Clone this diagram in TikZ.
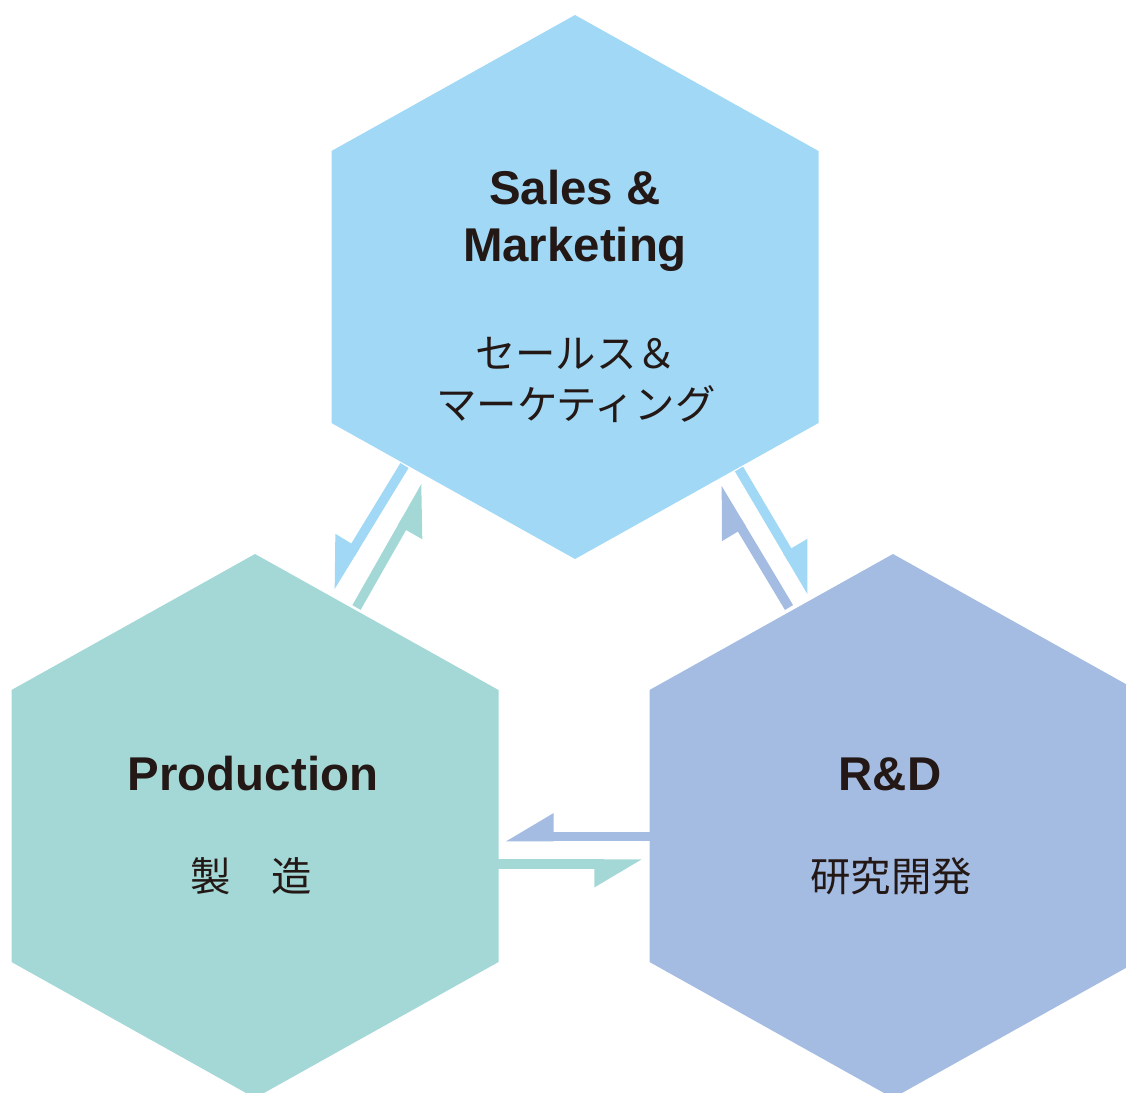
\documentclass[tikz,border=0pt]{standalone}
\usepackage{fontspec}
\setsansfont{Liberation Sans}
\newfontfamily\jafont{Noto Sans CJK JP}
\usetikzlibrary{arrows.meta}
\definecolor{sales fill}{RGB}{160,216,245}
\definecolor{prod fill}{RGB}{163,216,214}
\definecolor{rnd fill}{RGB}{164,188,226}
\definecolor{label color}{RGB}{35,24,21}

\begin{document}
\begin{tikzpicture}[
	x=0.5pt, y=-0.5pt,
	font=\sffamily,
	en/.style={font=\sffamily\bfseries\fontsize{23.7}{28.7}\selectfont, text=label color, align=center},
	ja/.style={font=\jafont\fontsize{20.2}{25.3}\selectfont, text=label color, align=center},
	harp right/.style={line width=4.75pt, -{Triangle[harpoon, swap, length=20pt, width=22pt]}},
	harp left/.style={line width=4.75pt, -{Triangle[harpoon, length=20pt, width=22pt]}}]

\useasboundingbox (0,0) rectangle (1126,1093);
\clip (0,0) rectangle (1126,1093);

% Hexagons
\foreach \cx/\cy/\col in {575/287/sales fill, 255/826/prod fill, 893/826/rnd fill} {
    \path [fill=\col] (\cx,\cy) ++(0,-272) -- ++(243.5,136) -- ++(0,272)
        -- ++(-243.5,136) -- ++(-243.5,-136) -- ++(0,-272) -- cycle;
}

% Labels
\node (sales) at (575,221) [en] {Sales \&\\Marketing};
\node (salesja) at (576,380) [ja] {セールス＆\\マーケティング};
\node (prod) at (253,774) [en] {Production};
\node (prodja) at (251,876) [ja] {製　造};
\node (rnd) at (890,774) [en] {R\&D};
\node (rndja) at (891,876) [ja] {研究開発};

% Arrow ends
\coordinate (sp1) at (404.5,465.5); \coordinate (sp2) at (330,587.5);
\coordinate (ps1) at (356.5,607.5); \coordinate (ps2) at (426,485.4);
\coordinate (sr1) at (739,469);     \coordinate (sr2) at (812,592.6);
\coordinate (rs1) at (789,607.5);   \coordinate (rs2) at (717,487.4);
\coordinate (rp1) at (650,836.5);   \coordinate (rp2) at (505,836.5);
\coordinate (pr1) at (498,864);     \coordinate (pr2) at (643,864);

% Arrows
\draw [harp right, sales fill] (sp1) -- (sp2);
\draw [harp right, prod fill] (ps1) -- (ps2);
\draw [harp left, sales fill] (sr1) -- (sr2);
\draw [harp left, rnd fill] (rs1) -- (rs2);
\draw [harp right, rnd fill] (rp1) -- (rp2);
\draw [harp right, prod fill] (pr1) -- (pr2);

\end{tikzpicture}
\end{document}
